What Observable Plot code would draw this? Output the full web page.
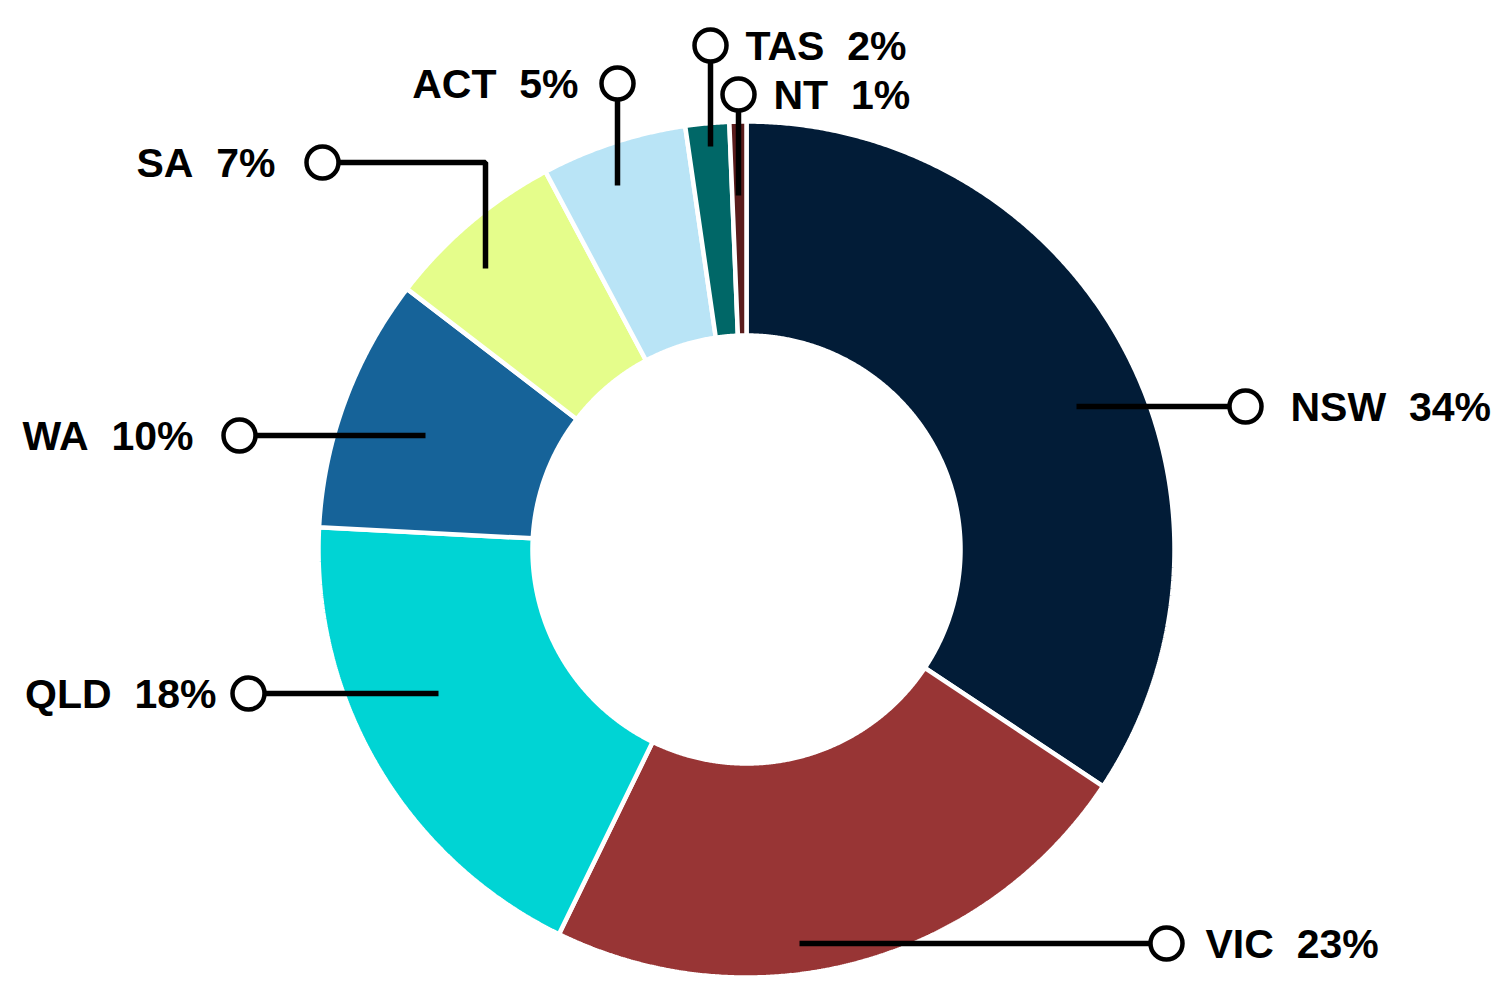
<!DOCTYPE html>
<html><head><meta charset="utf-8">
<script src="https://cdn.jsdelivr.net/npm/d3@7"></script>
<script src="https://cdn.jsdelivr.net/npm/@observablehq/plot@0.6"></script>
<style>body{margin:0;background:#fff;overflow:hidden}</style>
</head><body><div id="chart"></div>
<script>
// ---- data ----
const states   = ["NSW","VIC","QLD","WA","SA","ACT","TAS","NT"];
const shares   = [34.33, 22.89, 18.61, 9.59, 6.80, 5.49, 1.65, 0.64];
const labelPct = [34, 23, 18, 10, 7, 5, 2, 1];
const colors   = ["#021c37","#983535","#00d4d4","#166399","#e5fd8b","#b9e4f6","#006767","#5a1c1c"];

// ---- layout (annotation geometry, px relative to donut centre, y up) ----
const leaderPaths = [
  [[330,143],[499,143]],
  [[53,-394],[420,-394]],
  [[-308,-144],[-498,-144]],
  [[-321,114],[-507,114]],
  [[-261,281],[-261,387],[-424,387]],
  [[-129,364],[-129,466]],
  [[-36,403],[-36,504]],
  [[-8,354],[-8,455]]
];
const textDx = [45,39,-32,-46,-47,-39,35,35];
const outerR = 428, innerR = 214;

// ---- build slice polygons from the shares ----
const total = d3.sum(shares);
const slices = [];
let cum = 0;
states.forEach((s, i) => {
  const a0 = cum / total * 2 * Math.PI;
  cum += shares[i];
  const a1 = cum / total * 2 * Math.PI;
  const n = Math.max(4, Math.ceil((a1 - a0) / 0.005));
  for (let k = 0; k <= n; k++) {
    const a = a0 + (a1 - a0) * k / n;
    slices.push({state: s, x: outerR * Math.sin(a), y: outerR * Math.cos(a)});
  }
  for (let k = n; k >= 0; k--) {
    const a = a0 + (a1 - a0) * k / n;
    slices.push({state: s, x: innerR * Math.sin(a), y: innerR * Math.cos(a)});
  }
});

const leaders = leaderPaths.flatMap((p, i) => p.map(([x, y]) => ({state: states[i], x, y})));
const ends = leaderPaths.map((p, i) => ({
  state: states[i], x: p[p.length-1][0], y: p[p.length-1][1],
  tx: p[p.length-1][0] + textDx[i], side: textDx[i] > 0 ? "start" : "end",
  label: `${states[i]}\u00a0 ${labelPct[i]}%`
}));

const textStyle = {fontSize: 41, fontWeight: "bold", fontFamily: "Liberation Sans, Arial, sans-serif", fill: "black", lineAnchor: "middle", dy: 1};

const chart = Plot.plot({
  width: 1501, height: 1000,
  margin: 0,
  x: {domain: [-746, 755], range: [0, 1501], axis: null},
  y: {domain: [-451, 549], range: [1000, 0], axis: null},
  color: {domain: states, range: colors},
  marks: [
    Plot.line(slices, {x: "x", y: "y", z: "state", fill: "state", stroke: "white", strokeWidth: 4.5, curve: "linear-closed", strokeLinejoin: "miter"}),
    Plot.line(leaders, {x: "x", y: "y", z: "state", stroke: "black", strokeWidth: 5.5, strokeLinejoin: "miter", strokeLinecap: "butt"}),
    Plot.dot(ends, {x: "x", y: "y", r: 16, fill: "white", stroke: "black", strokeWidth: 4.5}),
    Plot.text(ends.filter(d => d.side === "start"), {x: "tx", y: "y", text: "label", textAnchor: "start", ...textStyle}),
    Plot.text(ends.filter(d => d.side === "end"), {x: "tx", y: "y", text: "label", textAnchor: "end", ...textStyle})
  ]
});
document.getElementById("chart").appendChild(chart);
</script>
</body></html>
